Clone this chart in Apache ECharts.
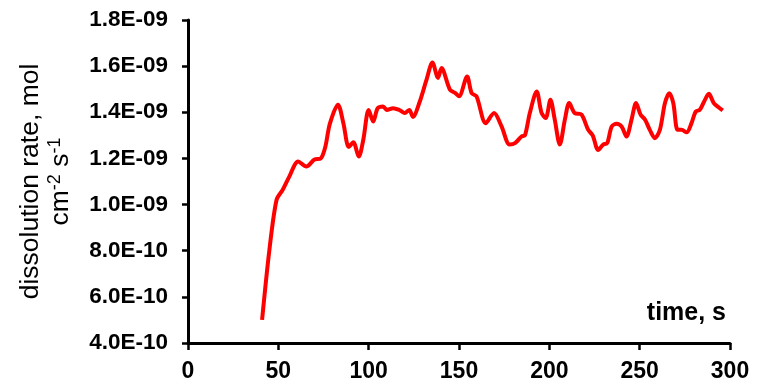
<!DOCTYPE html>
<html>
<head>
<meta charset="utf-8">
<script src="https://cdn.jsdelivr.net/npm/echarts@6/dist/echarts.min.js"></script>
<style>
  html, body { margin: 0; padding: 0; background: #fff; }
  #chart { width: 768px; height: 386px; }
</style>
</head>
<body>
<div id="chart"></div>
<script>
// Elapsed time, s
const timeS = [
  41, 45, 49, 52.5, 56, 61, 65.5, 70, 73.5, 76, 78.5, 83, 86, 89, 91.5, 94.5, 97,
  100, 102.5, 105, 108, 110, 113.5, 117, 120, 122.5, 124.5, 128, 132, 135.3, 138.4,
  140.3, 145, 148, 150, 154.5, 157, 159.7, 164.8, 169.4, 173.5, 178, 181, 184.6,
  186.5, 189.2, 193, 195.7, 198, 200.6, 203, 205.8, 208.6, 211, 214, 217.8, 221.5,
  224, 227, 229.8, 232, 234.5, 237.2, 240, 242.7, 245.5, 248, 250.5, 253, 255.6,
  258.4, 261.2, 264, 266.4, 268.6, 271, 273.2, 276, 278.7, 281, 283.3, 285.7, 288.3,
  291, 293.5, 296
];

// Dissolution rate, in units of 1E-09 mol cm^-2 s^-1
const rateNano = [
  0.50, 0.80, 1.02, 1.065, 1.12, 1.187, 1.165, 1.195, 1.20, 1.25, 1.35, 1.433, 1.353,
  1.25, 1.27, 1.208, 1.28, 1.41, 1.36, 1.418, 1.425, 1.41, 1.418, 1.41, 1.397, 1.41,
  1.38, 1.44, 1.54, 1.616, 1.549, 1.592, 1.498, 1.483, 1.469, 1.555, 1.483, 1.469,
  1.353, 1.397, 1.34, 1.26, 1.266, 1.295, 1.30, 1.397, 1.49, 1.397, 1.375, 1.454,
  1.368, 1.26, 1.368, 1.44, 1.397, 1.39, 1.324, 1.30, 1.237, 1.26, 1.266, 1.338,
  1.35, 1.338, 1.295, 1.368, 1.44, 1.39, 1.368, 1.324, 1.288, 1.324, 1.44, 1.483,
  1.44, 1.324, 1.324, 1.313, 1.353, 1.403, 1.411, 1.447, 1.48, 1.44, 1.423, 1.408
];

const xTicks = { min: 0, max: 300, step: 50 };
const yTicks = { min: 4e-10, max: 1.8e-9, step: 2e-10 };

const FONT = '"Liberation Sans", Arial, sans-serif';

// Excel-style scientific label, e.g. 1.8E-09
function sciLabel(v) {
  const [m, e] = Number(v).toExponential(1).split('e');
  const n = parseInt(e, 10);
  const sign = n < 0 ? '-' : '+';
  return m + 'E' + sign + String(Math.abs(n)).padStart(2, '0');
}

const points = timeS.map((t, i) => [t, rateNano[i] * 1e-9]);

const chart = echarts.init(document.getElementById('chart'), null, { renderer: 'canvas' });

chart.setOption({
  animation: false,
  backgroundColor: '#ffffff',
  grid: { left: 188, right: 38, top: 20, bottom: 43, containLabel: false },
  xAxis: {
    type: 'value',
    min: xTicks.min,
    max: xTicks.max,
    interval: xTicks.step,
    axisLine: { onZero: false, lineStyle: { color: '#000', width: 3 } },
    axisTick: { show: true, inside: false, length: 7, lineStyle: { color: '#000', width: 2.5 } },
    splitLine: { show: false },
    axisLabel: {
      color: '#000', fontFamily: FONT, fontWeight: 'bold', fontSize: 23, margin: 17
    }
  },
  yAxis: {
    type: 'value',
    min: yTicks.min,
    max: yTicks.max,
    interval: yTicks.step,
    axisLine: { show: true, onZero: false, lineStyle: { color: '#000', width: 3 } },
    axisTick: { show: true, inside: false, length: 6, lineStyle: { color: '#000', width: 2.5 } },
    splitLine: { show: false },
    axisLabel: {
      color: '#000', fontFamily: FONT, fontWeight: 'bold', fontSize: 22.5, margin: 20,
      formatter: sciLabel
    },
    name: '{a|dissolution rate, mol}\n{a|cm}{s|-2}{a| s}{s|-1}',
    nameLocation: 'middle',
    nameRotate: 90,
    nameGap: 112,
    nameTextStyle: {
      color: '#000',
      fontFamily: FONT,
      fontSize: 26,
      lineHeight: 30,
      rich: {
        a: { fontFamily: FONT, fontSize: 26.5, lineHeight: 30, color: '#000' },
        s: { fontFamily: FONT, fontSize: 18, lineHeight: 30, color: '#000', verticalAlign: 'top' }
      }
    }
  },
  graphic: [
    {
      type: 'text',
      right: 42,
      top: 301,
      style: { text: 'time, s', font: 'bold 25px ' + FONT, fill: '#000' }
    }
  ],
  series: [
    {
      type: 'line',
      data: points,
      smooth: 0.3,
      showSymbol: false,
      lineStyle: { color: '#ff0000', width: 4 },
      itemStyle: { color: '#ff0000' }
    }
  ]
});
</script>
</body>
</html>
